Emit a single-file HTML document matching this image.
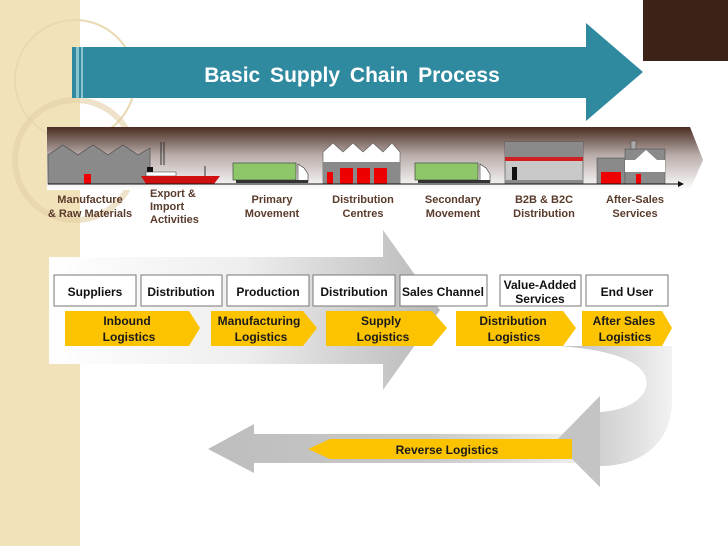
<!DOCTYPE html>
<html><head><meta charset="utf-8"><style>
html,body{margin:0;padding:0;background:#fff}
svg{display:block}
text{font-family:"Liberation Sans",sans-serif}
</style></head><body>
<svg width="728" height="546" viewBox="0 0 728 546" xmlns="http://www.w3.org/2000/svg">
<defs>
<linearGradient id="band" x1="0" y1="0" x2="0" y2="1">
<stop offset="0" stop-color="#4a2c22"/><stop offset="0.45" stop-color="#b9adaa"/><stop offset="1" stop-color="#ffffff"/>
</linearGradient>
<linearGradient id="gr" x1="0" y1="0" x2="1" y2="0">
<stop offset="0" stop-color="#fff"/><stop offset="0.5" stop-color="#eee"/><stop offset="1" stop-color="#b8b8b8"/>
</linearGradient>
<linearGradient id="gl" x1="0" y1="0" x2="1" y2="0">
<stop offset="0" stop-color="#bdbdbd"/><stop offset="0.6" stop-color="#c9c9c9"/><stop offset="1" stop-color="#eeeeee"/>
</linearGradient>
<linearGradient id="gc" x1="0" y1="0" x2="1" y2="0">
<stop offset="0" stop-color="#bcbcbc"/><stop offset="0.5" stop-color="#d6d6d6"/><stop offset="1" stop-color="#f2f2f2"/>
</linearGradient>
</defs>
<rect x="0" y="0" width="80" height="546" fill="#f2e2ba"/>
<circle cx="75" cy="80" r="60" fill="none" stroke="#e9d9b2" stroke-width="2"/>
<circle cx="75" cy="160" r="60" fill="none" stroke="#e2d0a6" stroke-width="6" opacity="0.6"/>
<rect x="643" y="0" width="85" height="61" fill="#3c2219"/>
<polygon points="72,47 586,47 586,23 643,72 586,121 586,98 72,98" fill="#2f8aa0"/>
<rect x="76" y="47" width="3" height="51" fill="#8bc3d0"/>
<rect x="81" y="47" width="2" height="51" fill="#8bc3d0"/>
<text x="352" y="82" text-anchor="middle" font-size="21" font-weight="bold" fill="#fff" word-spacing="4">Basic Supply Chain Process</text>
<polygon points="47,127 690,127 703,160 690,190 47,190" fill="url(#band)"/>
<polygon points="48,184 48,155 63,145 78,155 93,145 108,155 123,145 138,155 150,148 150,184" fill="#8a8a8a" stroke="#444" stroke-width="0.6"/>
<rect x="84" y="174" width="7" height="10" fill="#e00"/>
<line x1="161" y1="142" x2="161" y2="165" stroke="#333"/><line x1="164" y1="142" x2="164" y2="165" stroke="#333"/>
<rect x="147" y="167" width="6" height="5" fill="#111"/>
<rect x="146" y="172" width="30" height="4" fill="#fff" stroke="#333" stroke-width="0.5"/>
<polygon points="141,176 220,176 214,184 146,184" fill="#d01010"/>
<line x1="205" y1="166" x2="205" y2="176" stroke="#333"/>
<rect x="233" y="163" width="63" height="17" fill="#8ec66a" stroke="#333" stroke-width="0.6"/>
<path d="M298,164 l6,4 l4,6 l0,8 l-10,0 z" fill="#fff" stroke="#333" stroke-width="0.6"/>
<rect x="236" y="180" width="72" height="3" fill="#333"/>
<polygon points="323,184 323,152 333,143 343,152 353,143 363,152 373,143 383,152 392,143 400,152 400,184" fill="#fff" stroke="#555" stroke-width="0.6"/>
<rect x="323" y="162" width="77" height="22" fill="#8a8a8a"/>
<rect x="327" y="172" width="6" height="12" fill="#e00"/>
<rect x="340" y="168" width="13" height="16" fill="#e00"/>
<rect x="357" y="168" width="13" height="16" fill="#e00"/>
<rect x="374" y="168" width="13" height="16" fill="#e00"/>
<rect x="415" y="163" width="63" height="17" fill="#8ec66a" stroke="#333" stroke-width="0.6"/>
<path d="M480,164 l6,4 l4,6 l0,8 l-10,0 z" fill="#fff" stroke="#333" stroke-width="0.6"/>
<rect x="418" y="180" width="72" height="3" fill="#333"/>
<rect x="505" y="142" width="78" height="42" fill="#c8c8c8" stroke="#444" stroke-width="0.6"/>
<rect x="505" y="142" width="78" height="15" fill="#8a8a8a"/>
<rect x="505" y="157" width="78" height="4" fill="#d02020"/>
<rect x="512" y="167" width="5" height="17" fill="#111"/>
<rect x="505" y="180" width="78" height="4" fill="#8a8a8a"/>
<rect x="597" y="158" width="30" height="26" fill="#8a8a8a" stroke="#444" stroke-width="0.5"/>
<rect x="601" y="172" width="20" height="12" fill="#e00"/>
<rect x="625" y="149" width="40" height="35" fill="#8a8a8a" stroke="#444" stroke-width="0.5"/>
<rect x="625" y="160" width="40" height="12" fill="#fff"/>
<polygon points="635,160 646,150 657,160" fill="#fff"/>
<rect x="631" y="141" width="5" height="8" fill="#aaa" stroke="#444" stroke-width="0.5"/>
<rect x="636" y="174" width="5" height="10" fill="#e00"/>
<line x1="48" y1="184" x2="680" y2="184" stroke="#111" stroke-width="1"/>
<polygon points="678,181 684,184 678,187" fill="#111"/>
<g font-size="11" font-weight="bold" fill="#5a3b2c" text-anchor="middle">
<text x="90" y="203">Manufacture</text><text x="90" y="217">&amp; Raw Materials</text>
<text x="150" y="197" text-anchor="start">Export &amp;</text><text x="150" y="210" text-anchor="start">Import</text><text x="150" y="223" text-anchor="start">Activities</text>
<text x="272" y="203">Primary</text><text x="272" y="217">Movement</text>
<text x="363" y="203">Distribution</text><text x="363" y="217">Centres</text>
<text x="453" y="203">Secondary</text><text x="453" y="217">Movement</text>
<text x="544" y="203">B2B &amp; B2C</text><text x="544" y="217">Distribution</text>
<text x="635" y="203">After-Sales</text><text x="635" y="217">Services</text>
</g>
<rect x="49" y="257" width="334" height="107" fill="#fff"/>
<polygon points="49,257 383,257 383,230 440,310 383,390 383,364 49,364" fill="url(#gr)"/>
<!-- U-turn -->
<path d="M560,346 L672,346 L672,400 C672,440 645,466 600,466 L600,487 L555,442 L600,396 L600,412 C632,410 650,395 646,378 C640,360 610,350 560,346 Z" fill="url(#gc)"/>
<polygon points="208,449 254,424 254,434 580,434 580,463 254,463 254,473" fill="url(#gl)"/>
<polygon points="600,396 600,487 555,442" fill="#c4c4c4"/>
<g fill="#fff" stroke="#777" stroke-width="1">
<rect x="54" y="275" width="82" height="31"/><rect x="141" y="275" width="81" height="31"/>
<rect x="227" y="275" width="82" height="31"/><rect x="313" y="275" width="82" height="31"/>
<rect x="400" y="275" width="87" height="31"/><rect x="500" y="275" width="81" height="31"/>
<rect x="586" y="275" width="82" height="31"/>
</g>
<g font-size="12" font-weight="bold" fill="#111" text-anchor="middle">
<text x="95" y="296">Suppliers</text><text x="181" y="296">Distribution</text>
<text x="268" y="296">Production</text><text x="354" y="296">Distribution</text>
<text x="443" y="296">Sales Channel</text>
<text x="540" y="289">Value-Added</text><text x="540" y="303">Services</text>
<text x="627" y="296">End User</text>
</g>
<g fill="#fcc300">
<polygon points="65,311 189,311 200,328 189,346 65,346"/>
<polygon points="211,311 303,311 317,328 303,346 211,346"/>
<polygon points="326,311 432,311 447,328 432,346 326,346"/>
<polygon points="456,311 563,311 576,328 563,346 456,346"/>
<polygon points="582,311 662,311 672,328 662,346 582,346"/>
<polygon points="308,449 330,439 572,439 572,459 330,459"/>
</g>
<g font-size="12" font-weight="bold" fill="#1a1a1a" text-anchor="middle">
<text x="127" y="325">Inbound</text><text x="129" y="341">Logistics</text>
<text x="259" y="325">Manufacturing</text><text x="261" y="341">Logistics</text>
<text x="381" y="325">Supply</text><text x="383" y="341">Logistics</text>
<text x="513" y="325">Distribution</text><text x="514" y="341">Logistics</text>
<text x="624" y="325">After Sales</text><text x="625" y="341">Logistics</text>
<text x="447" y="454">Reverse Logistics</text>
</g>
</svg>
</body></html>
